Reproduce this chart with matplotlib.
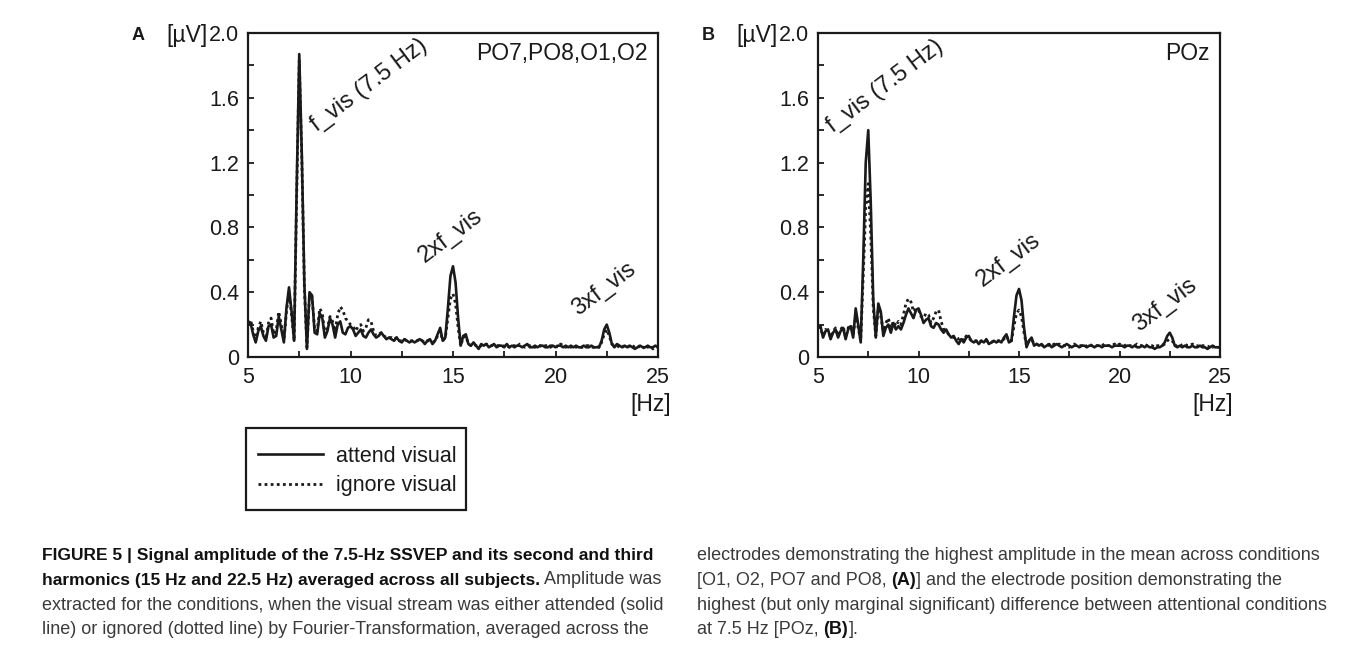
import numpy as np
import matplotlib
matplotlib.use("Agg")
import matplotlib.pyplot as plt
from matplotlib import font_manager
from matplotlib.patches import Rectangle
from matplotlib.text import Annotation


# [ DATA ]  amplitude spectra, 0.125 Hz steps from 5 to 25 Hz
#=============================================================================================================================
freq_hz = np.arange(5.0, 25.0 + 0.0625, 0.125)

attend_a = [0.20, 0.21, 0.14, 0.09, 0.16, 0.19, 0.13, 0.10,
            0.19, 0.20, 0.12, 0.13, 0.25, 0.17, 0.09, 0.30,
            0.43, 0.28, 0.10, 1.05, 1.87, 1.25, 0.45, 0.05,
            0.40, 0.38, 0.15, 0.14, 0.27, 0.24, 0.12, 0.16,
            0.24, 0.20, 0.12, 0.20, 0.22, 0.15, 0.14, 0.18,
            0.19, 0.17, 0.13, 0.15, 0.17, 0.13, 0.12, 0.15,
            0.17, 0.14, 0.12, 0.13, 0.15, 0.13, 0.11, 0.12,
            0.11, 0.10, 0.12, 0.10, 0.09, 0.11, 0.10, 0.09,
            0.10, 0.09, 0.10, 0.11, 0.10, 0.08, 0.10, 0.11,
            0.08, 0.10, 0.14, 0.18, 0.10, 0.12, 0.30, 0.50,
            0.56, 0.46, 0.24, 0.07, 0.13, 0.14, 0.08, 0.07,
            0.09, 0.07, 0.05, 0.08, 0.07, 0.08, 0.06, 0.07,
            0.08, 0.06, 0.07, 0.07, 0.06, 0.08, 0.06, 0.07,
            0.06, 0.07, 0.07, 0.06, 0.07, 0.08, 0.06, 0.06,
            0.07, 0.06, 0.07, 0.07, 0.06, 0.06, 0.07, 0.07,
            0.06, 0.07, 0.07, 0.06, 0.07, 0.06, 0.07, 0.06,
            0.07, 0.06, 0.06, 0.07, 0.06, 0.06, 0.07, 0.06,
            0.06, 0.06, 0.10, 0.17, 0.20, 0.15, 0.08, 0.06,
            0.08, 0.07, 0.06, 0.07, 0.06, 0.07, 0.06, 0.05,
            0.06, 0.07, 0.06, 0.06, 0.07, 0.06, 0.06, 0.07,
            0.06]

ignore_a = [0.21, 0.23, 0.16, 0.10, 0.18, 0.22, 0.15, 0.11,
            0.21, 0.24, 0.14, 0.16, 0.28, 0.20, 0.10, 0.28,
            0.40, 0.26, 0.10, 1.00, 1.83, 1.22, 0.43, 0.06,
            0.38, 0.37, 0.17, 0.16, 0.30, 0.27, 0.14, 0.18,
            0.25, 0.22, 0.16, 0.26, 0.31, 0.29, 0.24, 0.22,
            0.20, 0.19, 0.16, 0.19, 0.20, 0.16, 0.18, 0.23,
            0.22, 0.16, 0.13, 0.14, 0.15, 0.13, 0.12, 0.12,
            0.12, 0.11, 0.12, 0.10, 0.10, 0.11, 0.10, 0.10,
            0.10, 0.10, 0.10, 0.11, 0.10, 0.09, 0.10, 0.10,
            0.09, 0.10, 0.13, 0.16, 0.10, 0.12, 0.24, 0.36,
            0.39, 0.33, 0.18, 0.07, 0.12, 0.13, 0.08, 0.07,
            0.08, 0.07, 0.06, 0.07, 0.07, 0.08, 0.07, 0.07,
            0.07, 0.07, 0.07, 0.06, 0.07, 0.07, 0.06, 0.07,
            0.07, 0.06, 0.08, 0.07, 0.06, 0.07, 0.07, 0.06,
            0.06, 0.07, 0.07, 0.06, 0.07, 0.07, 0.06, 0.07,
            0.07, 0.06, 0.08, 0.07, 0.06, 0.07, 0.06, 0.07,
            0.06, 0.07, 0.06, 0.06, 0.07, 0.07, 0.06, 0.06,
            0.07, 0.06, 0.09, 0.14, 0.17, 0.13, 0.08, 0.07,
            0.07, 0.06, 0.07, 0.06, 0.07, 0.06, 0.07, 0.06,
            0.07, 0.06, 0.05, 0.07, 0.06, 0.07, 0.05, 0.06,
            0.06]

attend_b = [0.18, 0.19, 0.12, 0.16, 0.17, 0.11, 0.15, 0.17,
            0.12, 0.16, 0.18, 0.11, 0.17, 0.19, 0.12, 0.30,
            0.20, 0.09, 0.60, 1.20, 1.40, 0.95, 0.35, 0.12,
            0.33, 0.28, 0.13, 0.18, 0.20, 0.15, 0.21, 0.17,
            0.19, 0.17, 0.21, 0.26, 0.30, 0.27, 0.24, 0.29,
            0.30, 0.26, 0.21, 0.23, 0.24, 0.19, 0.18, 0.21,
            0.20, 0.17, 0.15, 0.17, 0.14, 0.12, 0.13, 0.10,
            0.08, 0.11, 0.09, 0.12, 0.13, 0.10, 0.09, 0.10,
            0.08, 0.10, 0.09, 0.11, 0.08, 0.09, 0.10, 0.09,
            0.10, 0.09, 0.12, 0.14, 0.09, 0.10, 0.25, 0.38,
            0.42, 0.35, 0.18, 0.06, 0.10, 0.12, 0.07, 0.08,
            0.07, 0.08, 0.06, 0.07, 0.08, 0.06, 0.07, 0.08,
            0.07, 0.06, 0.07, 0.08, 0.07, 0.06, 0.07, 0.07,
            0.06, 0.07, 0.07, 0.06, 0.07, 0.07, 0.06, 0.07,
            0.07, 0.06, 0.07, 0.07, 0.07, 0.06, 0.07, 0.07,
            0.07, 0.07, 0.06, 0.07, 0.07, 0.06, 0.07, 0.06,
            0.06, 0.07, 0.06, 0.07, 0.06, 0.06, 0.05, 0.06,
            0.06, 0.07, 0.09, 0.13, 0.15, 0.12, 0.07, 0.06,
            0.07, 0.06, 0.07, 0.06, 0.06, 0.07, 0.06, 0.06,
            0.07, 0.06, 0.06, 0.05, 0.06, 0.07, 0.06, 0.06,
            0.06]

ignore_b = [0.19, 0.18, 0.13, 0.17, 0.16, 0.12, 0.16, 0.18,
            0.13, 0.17, 0.19, 0.12, 0.18, 0.20, 0.13, 0.26,
            0.18, 0.10, 0.50, 0.92, 1.07, 0.75, 0.30, 0.13,
            0.30, 0.25, 0.16, 0.21, 0.24, 0.18, 0.22, 0.19,
            0.22, 0.20, 0.26, 0.33, 0.36, 0.34, 0.28, 0.30,
            0.29, 0.25, 0.24, 0.27, 0.26, 0.21, 0.24, 0.28,
            0.29, 0.22, 0.17, 0.16, 0.14, 0.13, 0.12, 0.12,
            0.11, 0.12, 0.10, 0.13, 0.12, 0.10, 0.10, 0.10,
            0.09, 0.10, 0.10, 0.10, 0.09, 0.09, 0.10, 0.10,
            0.10, 0.10, 0.11, 0.13, 0.10, 0.10, 0.19, 0.27,
            0.29, 0.25, 0.15, 0.07, 0.10, 0.11, 0.08, 0.08,
            0.07, 0.07, 0.07, 0.08, 0.07, 0.07, 0.08, 0.07,
            0.08, 0.07, 0.07, 0.07, 0.06, 0.07, 0.08, 0.07,
            0.07, 0.07, 0.06, 0.07, 0.08, 0.07, 0.07, 0.07,
            0.07, 0.07, 0.08, 0.07, 0.07, 0.07, 0.08, 0.07,
            0.08, 0.07, 0.07, 0.08, 0.07, 0.07, 0.07, 0.08,
            0.07, 0.07, 0.08, 0.07, 0.07, 0.07, 0.06, 0.07,
            0.07, 0.07, 0.08, 0.10, 0.11, 0.10, 0.07, 0.07,
            0.08, 0.07, 0.08, 0.07, 0.07, 0.08, 0.07, 0.07,
            0.06, 0.07, 0.07, 0.06, 0.07, 0.06, 0.07, 0.06,
            0.06]

panel_letters = ["A", "B"]
panel_sites = ["PO7,PO8,O1,O2", "POz"]
series_labels = ["attend visual", "ignore visual"]

y_ticks = [0, 0.4, 0.8, 1.2, 1.6, 2.0]
y_tick_labels = ["0", "0.4", "0.8", "1.2", "1.6", "2.0"]
x_ticks = [5, 10, 15, 20, 25]

# peak labels: (text, Hz, µV) for each panel
peak_labels = [
    [("f_vis (7.5 Hz)", 8.35, 1.39), ("2xf_vis", 13.65, 0.58), ("3xf_vis", 21.10, 0.25)],
    [("f_vis (7.5 Hz)", 5.75, 1.38), ("2xf_vis", 13.20, 0.43), ("3xf_vis", 20.95, 0.155)],
]

caption_left = [
    [("FIGURE 5 | Signal amplitude of the 7.5-Hz SSVEP and its second and third", True)],
    [("harmonics (15 Hz and 22.5 Hz) averaged across all subjects.", True), (" Amplitude was", False)],
    [("extracted for the conditions, when the visual stream was either attended (solid", False)],
    [("line) or ignored (dotted line) by Fourier-Transformation, averaged across the", False)],
]
caption_right = [
    [("electrodes demonstrating the highest amplitude in the mean across conditions", False)],
    [("[O1, O2, PO7 and PO8, ", False), ("(A)", True), ("] and the electrode position demonstrating the", False)],
    [("highest (but only marginal significant) difference between attentional conditions", False)],
    [("at 7.5 Hz [POz, ", False), ("(B)", True), ("].", False)],
]


# [ FIGURE ]
#=============================================================================================================================
plt.rcParams["font.family"] = ["Liberation Sans", "DejaVu Sans"]
ink = "#1a1a1a"

fig = plt.figure(figsize=(13.57, 6.51), dpi=100)
fig.patch.set_facecolor("white")

W, H = 1357, 651
ax_a = fig.add_axes([248 / W, 1 - 357 / H, 410 / W, 324 / H])
ax_b = fig.add_axes([818 / W, 1 - 357 / H, 402 / W, 324 / H])

for i, (ax, attend, ignore) in enumerate([(ax_a, attend_a, ignore_a), (ax_b, attend_b, ignore_b)]):
    ax.plot(freq_hz, attend, color=ink, lw=1.9, ls="-", label=series_labels[0])
    ax.plot(freq_hz, ignore, color=ink, lw=2.0, ls=(0, (1, 1.2)), label=series_labels[1])

    ax.set_xlim(5, 25)
    ax.set_ylim(0, 2.0)
    ax.set_xticks(x_ticks)
    ax.set_xticks([7.5, 12.5, 17.5, 22.5], minor=True)
    ax.set_yticks(y_ticks)
    ax.set_yticklabels(y_tick_labels)
    ax.set_yticks([0.2, 0.6, 1.0, 1.4, 1.8], minor=True)
    ax.tick_params(which="both", direction="in", length=4, width=1.3, color=ink,
                   top=False, right=False, labelsize=15.5, labelcolor=ink)
    ax.tick_params(axis="y", pad=6.5)
    ax.tick_params(axis="x", pad=7)
    for sp in ax.spines.values():
        sp.set_linewidth(1.6)
        sp.set_color(ink)

    # panel letter, unit labels, electrode site
    ax.annotate(panel_letters[i], xy=(0, 1), xycoords="axes fraction", xytext=(-103, -3),
                textcoords="offset pixels", ha="right", va="center",
                fontsize=13, fontweight="bold", color=ink)
    ax.annotate("[µV]", xy=(0, 1), xycoords="axes fraction", xytext=(-40, -3),
                textcoords="offset pixels", ha="right", va="center", fontsize=16.5, color=ink)
    ax.annotate("[Hz]", xy=(1, 0), xycoords="axes fraction", xytext=(13, -48),
                textcoords="offset pixels", ha="right", va="center", fontsize=16.5, color=ink)
    ax.annotate(panel_sites[i], xy=(1, 1), xycoords="axes fraction", xytext=(-10, -21),
                textcoords="offset pixels", ha="right", va="center", fontsize=16.5, color=ink)

    for txt, hz, uv in peak_labels[i]:
        ax.text(hz, uv, txt, rotation=37, rotation_mode="anchor", ha="left", va="baseline",
                fontsize=17, color=ink)


# [ LEGEND ]
#=============================================================================================================================
handles, labels = ax_a.get_legend_handles_labels()
leg = fig.legend(handles, labels, loc="upper left", bbox_to_anchor=(258 / W, 1 - 446 / H),
                 bbox_transform=fig.transFigure, borderaxespad=0, borderpad=0, fontsize=15.5,
                 handlelength=3.0, handletextpad=0.6, labelspacing=0.38, frameon=False)
for t in leg.get_texts():
    t.set_color(ink)

fig.add_artist(Rectangle((246 / W, 1 - 510 / H), 220 / W, 82 / H, transform=fig.transFigure,
                         facecolor="none", edgecolor=ink, linewidth=1.6))


# [ CAPTION ]
#=============================================================================================================================
font_names = {f.name for f in font_manager.fontManager.ttflist}
if "Liberation Sans Narrow" in font_names:
    cap_family, cap_size, head_size = "Liberation Sans Narrow", 14.5, 14.0
else:
    cap_family, cap_size, head_size = "Liberation Sans", 13.0, 12.5


def caption_line(x_px, base_px, parts, bold_size):
    prev = None
    for txt, bold in parts:
        kw = dict(fontsize=bold_size if bold else cap_size, family=cap_family,
                  fontweight="bold" if bold else "normal",
                  color="#111111" if bold else "#3a3a3a")
        if prev is None:
            prev = fig.text(x_px / W, 1 - base_px / H, txt, ha="left", va="baseline", **kw)
        else:
            prev = fig.add_artist(Annotation(txt, xy=(1, 0), xycoords=prev,
                                             ha="left", va="bottom", **kw))


for k, parts in enumerate(caption_left):
    caption_line(42, 560 + 24.8 * k, parts, head_size)
for k, parts in enumerate(caption_right):
    caption_line(697, 560 + 24.8 * k, parts, cap_size)

fig.savefig("out.png", dpi=100, facecolor="white")
